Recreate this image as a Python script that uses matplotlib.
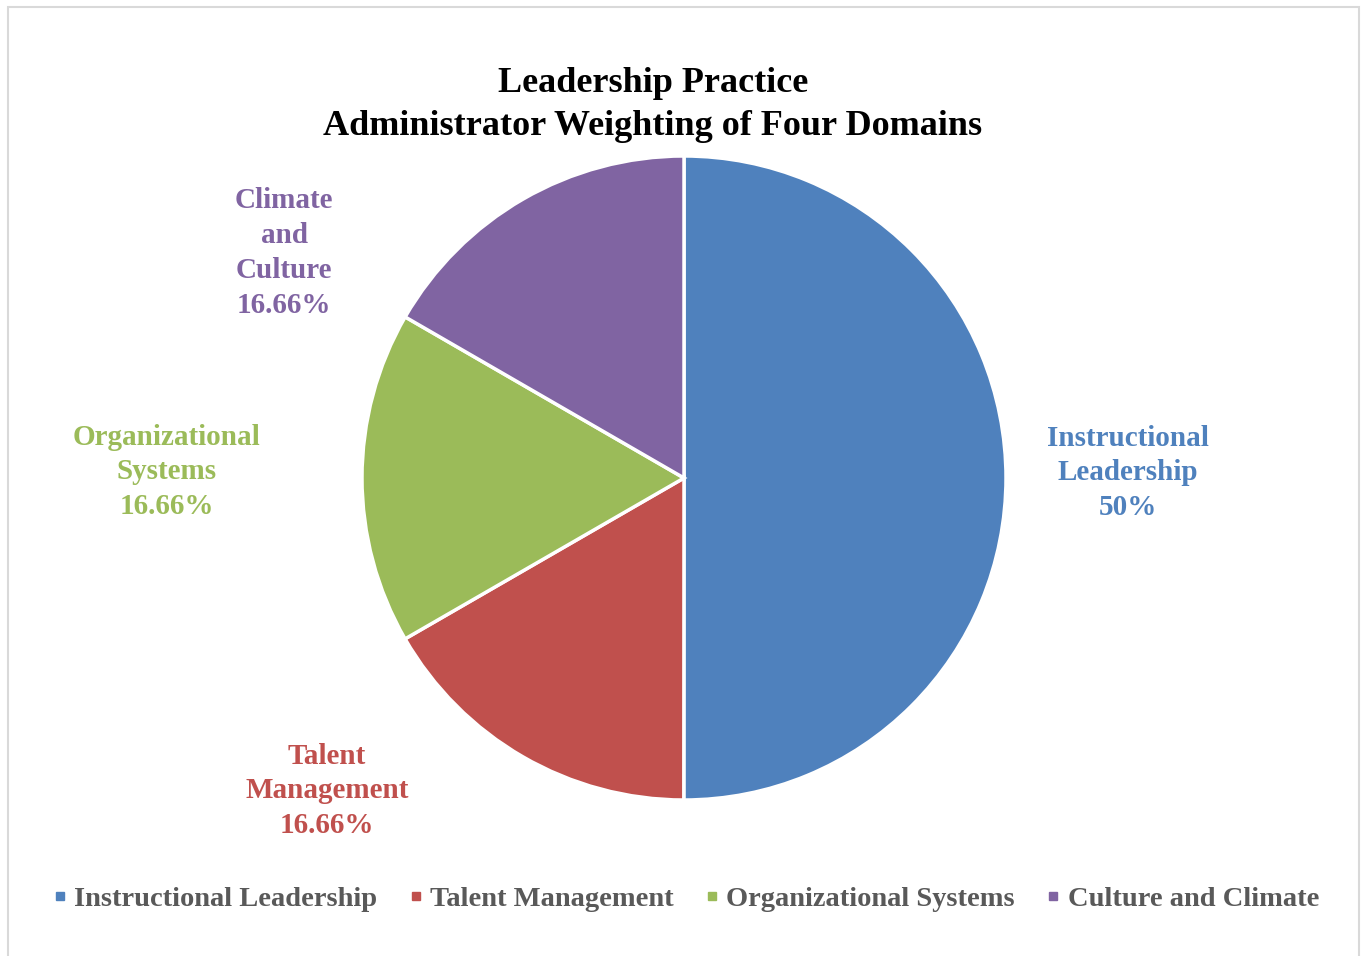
# Leadership practice pie chart: administrator weighting of four domains
import matplotlib.pyplot as plt
from matplotlib.lines import Line2D
from matplotlib.patches import Rectangle

plt.rcParams['font.family'] = ['Liberation Serif', 'DejaVu Serif']

# data
domains = ['Instructional Leadership', 'Talent Management',
           'Organizational Systems', 'Culture and Climate']
weights = [50, 16.66, 16.66, 16.66]
slice_labels = ['Instructional\nLeadership\n50%',
                'Talent\nManagement\n16.66%',
                'Organizational\nSystems\n16.66%',
                'Climate\nand\nCulture\n16.66%']
colors = ['#4F81BD', '#C0504D', '#9BBB59', '#8064A2']

W, H = 1361, 956
fig = plt.figure(figsize=(W / 100, H / 100), dpi=100)

# chart border (light grey frame, bottom edge runs off the image)
fig.patches.append(Rectangle((8 / W, -0.05), (1359 - 8) / W, 1 - 7 / H + 0.05,
                             transform=fig.transFigure, fill=False,
                             edgecolor='#D9D9D9', linewidth=1.5))

# pie axes: centre (684, 478), radius 322 px
cx, cy, r = 684, 478, 322
ax = fig.add_axes([(cx - r) / W, 1 - (cy + r) / H, 2 * r / W, 2 * r / H])
ax.pie(weights, colors=colors, startangle=90, counterclock=False,
       wedgeprops=dict(edgecolor='white', linewidth=2.5))
ax.set_xlim(-1, 1)
ax.set_ylim(-1, 1)
ax.set_aspect('equal')
ax.axis('off')

# data label positions in pixels (centre of text block)
label_px = [(1128, 473), (327, 791), (167, 472), (284, 253)]
for lab, (px, py), c in zip(slice_labels, label_px, colors):
    ax.text((px - cx) / r, (cy - py) / r, lab, ha='center', va='center',
            color=c, fontsize=21, fontweight='bold', linespacing=1.38,
            clip_on=False)

fig.text(653 / W, 1 - 105 / H, 'Leadership Practice\nAdministrator Weighting of Four Domains',
         ha='center', va='center', fontsize=26, fontweight='bold',
         color='black', linespacing=1.42)

handles = [Line2D([], [], marker='s', linestyle='none', markersize=6,
                  markerfacecolor=c, markeredgecolor=c) for c in colors]
fig.legend(handles, domains, loc='center', bbox_to_anchor=(686 / W, 1 - 899 / H),
           ncol=4, frameon=False, handlelength=0.5, handletextpad=0.25,
           columnspacing=1.1, prop=dict(size=20.5, weight='bold'),
           labelcolor='#595959')

fig.savefig('out.png', dpi=100)
